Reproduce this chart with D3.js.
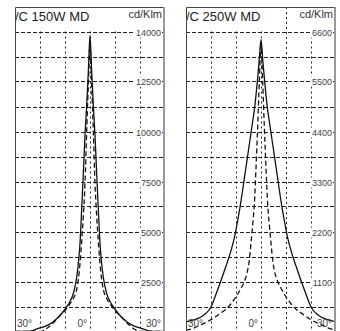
<!DOCTYPE html>
<html>
<head>
<meta charset="utf-8">
<script src="https://cdn.jsdelivr.net/npm/d3@7"></script>
<style>
body { margin: 0; background: #fff; }
svg { display: block; }
text { font-family: "Liberation Sans", Arial, Helvetica, sans-serif; }
</style>
</head>
<body>
<script>
var width = 340,
    height = 331;

// angle (deg) and intensity (cd/klm)
var angles    = [-45,-40,-36,-33,-30,-27,-24,-21,-18,-16,-14,-12,-10,-8,-7,-6,-5,-4,-3,-2,-1,0,1,2,3,4,5,6,7,8,10,12,14,16,18,21,24,27,30,33,36,40,45];
var solid150  = [0,0,20,90,180,260,380,560,800,1000,1230,1500,1900,2700,3400,4400,6100,7900,9800,11300,13000,14800,13000,11300,9800,7900,6100,4400,3400,2700,1900,1500,1230,1000,800,560,380,260,180,90,20,0,0];
var dashed150 = [0,0,0,0,0,100,280,520,800,960,1150,1380,1650,2100,2600,3400,4500,5800,7400,10000,12300,14200,12300,10000,7400,5800,4500,3400,2600,2100,1650,1380,1150,960,800,520,280,100,0,0,0,0,0];
var solid250  = [210,260,320,400,540,820,1120,1440,1780,2060,2440,2870,3370,3870,4120,4370,4620,4870,5200,5580,6000,6420,6000,5580,5200,4870,4620,4370,4120,3870,3370,2870,2440,2060,1780,1440,1120,820,540,400,320,260,210];
var dashed250 = [30,80,150,200,260,330,410,490,610,710,820,950,1100,1350,1570,1950,2350,2800,3600,4500,5500,6300,5500,4500,3600,2800,2350,1950,1570,1350,1100,950,820,710,610,490,410,330,260,200,150,80,30];

var ticks150  = [2500,5000,7500,10000,12500,15000];
var labels150 = ["2500","5000","7500","10000","12500","14000"];
var ticks250  = [1100,2200,3300,4400,5500,6600];
var labels250 = ["1100","2200","3300","4400","5500","6600"];

var angleTicks  = [-30,0,30];
var angleLabels = ["30°","0°","30°"];
var gridAngles  = [-30,-15,0,15,30];

var titles = ["/C 150W MD","/C 250W MD"];
var unit = "cd/Klm";

var panels = [
  {left: 15,  title: titles[0], yMax: 15000, ticks: ticks150, labels: labels150, solid: solid150, dashed: dashed150, headerGrid: []},
  {left: 186, title: titles[1], yMax: 6600,  ticks: ticks250, labels: labels250, solid: solid250, dashed: dashed250, headerGrid: [15]}
];

var pw = 150,
    topY = 7,
    headY = 31.5,
    bottomY = 331.5;

var svg = d3.select("body").append("svg")
    .attr("width", width)
    .attr("height", height);

svg.append("rect").attr("width", width).attr("height", height).attr("fill", "#fff");

panels.forEach(function(p, pi) {
  var g = svg.append("g").attr("transform", "translate(" + p.left + ",0)");

  var x = d3.scaleLinear().domain([-45, 45]).range([0, pw]);
  var y = d3.scaleLinear().domain([0, p.yMax]).range([bottomY, headY]);

  var defs = g.append("defs");
  defs.append("clipPath").attr("id", "plot" + pi)
    .append("rect").attr("x", 0).attr("y", headY).attr("width", pw).attr("height", bottomY - headY);
  defs.append("clipPath").attr("id", "panel" + pi)
    .append("rect").attr("x", 0.5).attr("y", topY).attr("width", pw - 1).attr("height", bottomY - topY);

  g.append("rect").attr("x", 0).attr("y", topY).attr("width", pw).attr("height", bottomY - topY).attr("fill", "#fff");

  // horizontal grid, one line per twelfth of the scale
  var rows = d3.range(0, 13).map(function(i) { return p.yMax * i / 12; });
  g.selectAll(".hgrid")
    .data(rows)
    .enter()
    .append("line")
    .attr("class", "hgrid")
    .attr("x1", 0).attr("x2", pw)
    .attr("y1", function(d) { return Math.round(y(d)) + 0.5; })
    .attr("y2", function(d) { return Math.round(y(d)) + 0.5; })
    .attr("stroke", "#222")
    .attr("stroke-width", 1)
    .attr("stroke-dasharray", "4,2");

  g.selectAll(".vgrid")
    .data(gridAngles)
    .enter()
    .append("line")
    .attr("class", "vgrid")
    .attr("x1", function(d) { return Math.round(x(d)) + 0.5; })
    .attr("x2", function(d) { return Math.round(x(d)) + 0.5; })
    .attr("y1", function(d) { return p.headerGrid.indexOf(d) >= 0 ? topY : headY; })
    .attr("y2", bottomY)
    .attr("stroke", "#222")
    .attr("stroke-width", 1)
    .attr("stroke-dasharray", "2,3");

  var line = d3.line()
    .x(function(d, i) { return x(angles[i]); })
    .y(function(d) { return y(d); })
    .curve(d3.curveMonotoneX);

  var curves = g.append("g").attr("clip-path", "url(#plot" + pi + ")");
  curves.append("path")
    .attr("d", line(p.dashed))
    .attr("fill", "none")
    .attr("stroke", "#111")
    .attr("stroke-width", 1.3)
    .attr("stroke-dasharray", "5,3");
  curves.append("path")
    .attr("d", line(p.solid))
    .attr("fill", "none")
    .attr("stroke", "#111")
    .attr("stroke-width", 1.3);

  // value labels on the right, on white
  var vl = g.selectAll(".vlab")
    .data(p.ticks)
    .enter()
    .append("g")
    .attr("class", "vlab")
    .attr("transform", function(d) { return "translate(" + (pw - 4) + "," + (Math.round(y(d)) + 0.5) + ")"; });
  vl.append("text")
    .attr("text-anchor", "end")
    .attr("dy", "0.35em")
    .attr("font-size", 9)
    .attr("fill", "#444")
    .text(function(d, i) { return p.labels[i]; })
    .each(function() {
      var b = this.getBBox();
      d3.select(this.parentNode).insert("rect", "text")
        .attr("x", b.x - 2).attr("y", b.y).attr("width", b.width + 3).attr("height", b.height)
        .attr("fill", "#fff");
    });

  // angle labels along the bottom
  g.selectAll(".alab")
    .data(angleTicks)
    .enter()
    .append("text")
    .attr("class", "alab")
    .attr("x", function(d) { return d > 0 ? x(d) + 6 : (d < 0 ? x(d) - 8 : x(d) - 3); })
    .attr("y", 327)
    .attr("text-anchor", function(d) { return d > 0 ? "start" : "end"; })
    .attr("font-size", 10)
    .attr("fill", "#444")
    .text(function(d, i) { return angleLabels[i]; });

  // header
  var head = g.append("g").attr("clip-path", "url(#panel" + pi + ")");
  head.append("text")
    .attr("x", 0)
    .attr("y", 21)
    .attr("font-size", 13)
    .attr("fill", "#222")
    .text(p.title);
  head.append("text")
    .attr("x", pw - 3)
    .attr("y", 18)
    .attr("text-anchor", "end")
    .attr("font-size", 11)
    .attr("fill", "#333")
    .text(unit);

  // frame
  g.append("path")
    .attr("d", "M0.5," + bottomY + "V" + (topY + 0.5) + "H" + (pw - 1))
    .attr("fill", "none")
    .attr("stroke", "#444")
    .attr("stroke-width", 1);
  g.append("line")
    .attr("x1", pw - 1).attr("x2", pw - 1)
    .attr("y1", topY).attr("y2", bottomY)
    .attr("stroke", "#999")
    .attr("stroke-width", 2);
});
</script>
</body>
</html>
